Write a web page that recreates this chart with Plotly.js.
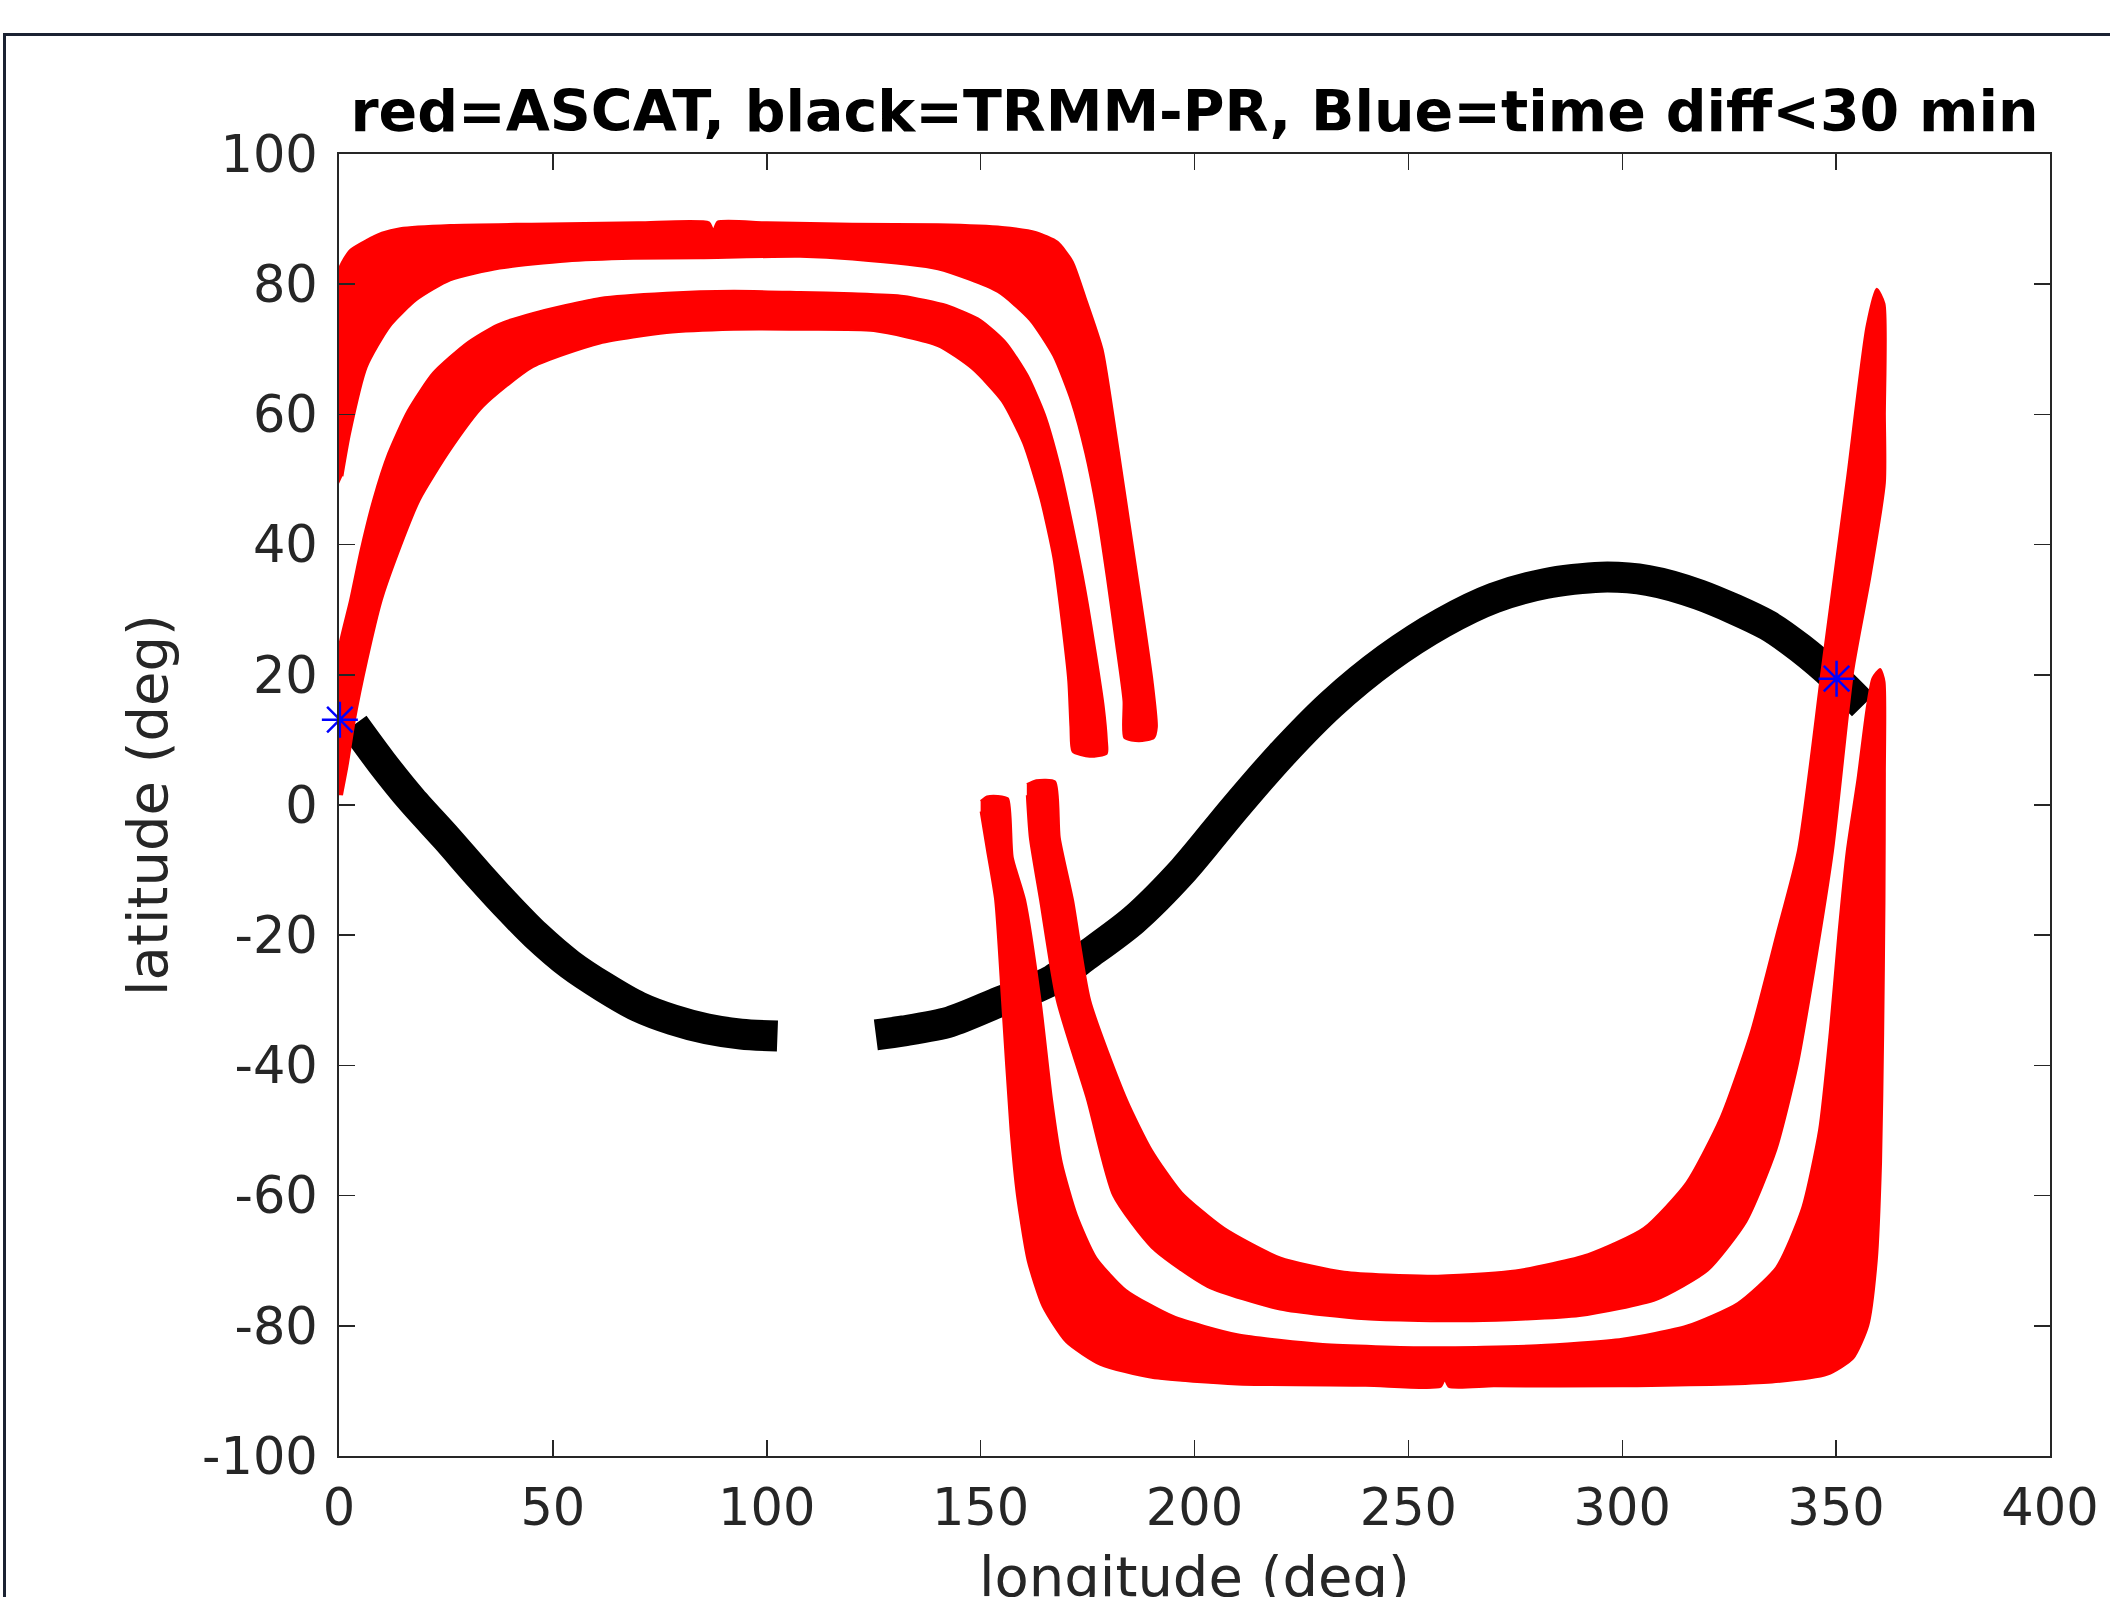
<!DOCTYPE html>
<html>
<head>
<meta charset="utf-8">
<script src="https://cdn.plot.ly/plotly-3.0.1.min.js"></script>
<style>
  html, body { margin: 0; padding: 0; background: #ffffff; }
  #wrap { position: relative; width: 2110px; height: 1597px; overflow: hidden; }
  #chart { position: absolute; left: 0; top: 0; width: 2110px; height: 1597px; }
  #frame { position: absolute; left: 3px; top: 33px; width: 2200px; height: 1700px;
           border-top: 3px solid #1b2232; border-left: 3px solid #1b2232; pointer-events: none; }
</style>
</head>
<body>
<div id="wrap"><div id="chart"></div><div id="frame"></div></div>
<script>
// ---------- axis ticks ----------
const xTickVals = [0, 50, 100, 150, 200, 250, 300, 350, 400];
const xTickText = ['0', '50', '100', '150', '200', '250', '300', '350', '400'];
const yTickVals = [-100, -80, -60, -40, -20, 0, 20, 40, 60, 80, 100];
const yTickText = ['-100', '-80', '-60', '-40', '-20', '0', '20', '40', '60', '80', '100'];

// ---------- TRMM-PR ground track (black), two segments ----------
const prTrack1Lon = [3.5, 10, 17, 25, 33, 40, 46, 54, 62, 70, 78, 86, 94, 102.5];
const prTrack1Lat = [12.3, 6.5, 0.8, -5, -11, -16, -20, -24.5, -28, -31, -33, -34.4, -35.2, -35.5];
const prTrack2Lon = [125.5, 132, 142.8, 154.5, 166.2, 175, 185.7, 197.4, 209, 220, 232, 245, 258, 270, 282, 295, 306, 318, 334, 341.6, 350, 356.3];
const prTrack2Lat = [-35.3, -34.7, -33.3, -30.2, -27.1, -23, -17.7, -10, -0.8, 7.5, 15.5, 22.5, 28, 31.8, 34, 35, 34.5, 32.3, 27.6, 24.1, 19.4, 15.3];

// ---------- ASCAT swaths (red), outlines of the covered areas ----------
const ascatNorthOuterLon = [-0.3, -1.2, -1.4, -1.3, -1.0, 0.2, 2.5, 6.5, 10, 14.3, 26, 45, 70, 86.5, 87.5, 88.5, 100, 120, 140, 155, 163, 168, 171.5, 174.5, 178.5, 181, 183.5, 186, 188.5, 190.2, 191.2, 190.5, 187, 183.6, 183.4, 181.6, 179.5, 177.2, 174.5, 171.2, 167, 161.5, 154, 140, 120, 107.8, 84.4, 68.8, 53.2, 37.6, 26, 18.2, 11.9, 6.5, 2.6, 0.8];
const ascatNorthOuterLat = [48.9, 53, 62, 72, 79, 82.7, 85.2, 86.8, 87.9, 88.6, 89.1, 89.3, 89.5, 89.5, 88.3, 89.6, 89.5, 89.3, 89.2, 88.8, 88, 86.5, 83.5, 78, 70, 60, 49, 38, 27, 19, 12, 10.3, 9.8, 10.3, 16, 25, 35, 45, 54, 62, 69, 74.5, 78.8, 82.3, 83.8, 84.2, 84.0, 83.9, 83.5, 82.4, 80.6, 77.6, 73.5, 67.3, 57.1, 50.5];

const ascatNorthInnerLon = [-0.5, -1.5, -1.7, -1.2, 0.2, 2.6, 5, 8, 11.5, 16, 22, 29.9, 37, 45.4, 61, 76.6, 92.2, 107.8, 120, 132, 142, 150, 156, 161, 165, 168.5, 171.5, 174.5, 177, 178.8, 179.5, 179.5, 175.5, 171.5, 171, 170.5, 169, 167, 164, 160, 155, 148, 140, 125, 107.8, 92.2, 76.6, 61, 45.4, 33.7, 26, 18.9, 14, 10, 6.5, 3.7, 2, 0.7];
const ascatNorthInnerLat = [1.5, 6, 13, 19, 25, 31.5, 39, 46.9, 54, 60.5, 66.4, 71, 73.8, 75.6, 77.9, 78.7, 79.0, 78.8, 78.6, 78.2, 76.8, 74.5, 71, 66, 60, 52, 43, 33, 23, 15, 10, 7.9, 7.4, 8.2, 12, 19, 28, 38, 47, 55.5, 62, 67, 70.5, 72.8, 73, 73, 72.5, 70.9, 67.3, 61.2, 54.5, 46.9, 39, 31.5, 22, 13, 6, 1.5];

const ascatSouthOuterLon = [150, 151.5, 154, 156.4, 157.5, 160.4, 164, 166.7, 169, 172.5, 177, 184, 195, 210, 230, 255, 280, 300, 315, 327, 336, 342, 346, 348.5, 350.5, 352.5, 355, 357.1, 358.5, 360.3, 361.3, 361.4, 361.3, 361, 360.5, 359.5, 357.5, 354, 348, 335, 300, 270, 259.5, 258.5, 257.5, 240, 210, 190, 178, 170, 164.5, 161, 158.5, 157, 155, 153.4, 151.5, 150];
const ascatSouthOuterLat = [0.6, 1.3, 1.4, 1.0, -8, -14.6, -30, -45.3, -55, -63, -69.5, -74.5, -78.5, -81.3, -82.8, -83.3, -83, -82, -80, -76.5, -71, -62, -50, -35, -20, -7, 4, 14.7, 19.5, 20.9, 19, 5, -15, -35, -55, -70, -80, -85, -87.5, -88.7, -89.3, -89.3, -89.4, -88.3, -89.4, -89.2, -89, -88, -86, -82.5, -77, -70, -60, -50, -30, -14.6, -7, -1];

const ascatSouthInnerLon = [160.8, 163, 167.4, 168.5, 171.6, 175.6, 184.2, 190, 197, 207, 220, 235, 255, 275, 292, 305, 315, 323, 330, 336, 341.1, 346.6, 352.5, 357.1, 359.5, 361.3, 361.4, 361.4, 358, 354, 349.3, 345, 341, 336, 329, 320, 308, 290, 265, 240, 220, 203, 190, 181, 174.9, 167.8, 163.9, 161.5, 160.8];
const ascatSouthInnerLat = [3.2, 3.8, 3.6, -5, -14.6, -30, -45.3, -53, -59.5, -65, -69.5, -71.7, -72.3, -71.5, -69, -65, -58, -48, -35, -20, -6.9, 20.6, 50, 73.5, 79.3, 77, 60, 49.5, 35, 20.6, -6.9, -25, -40, -53, -64, -71.5, -76, -78.5, -79.3, -79, -77.5, -74, -68, -60, -45.3, -30, -14.6, -5, 1.5];

// ---------- coincidences (blue) ----------
const matchLon = [0.2, 350.1];
const matchLat = [13.1, 19.4];

const RED = '#ff0000';
function swath(lon, lat) {
  return { type: 'scatter', mode: 'lines', x: lon, y: lat, fill: 'toself',
           fillcolor: RED, line: { color: RED, width: 2, shape: 'spline', smoothing: 0.6 }, hoverinfo: 'skip' };
}

const traces = [
  { type: 'scatter', mode: 'lines', x: prTrack1Lon, y: prTrack1Lat,
    line: { color: '#000000', width: 31, shape: 'spline', smoothing: 0.8 } },
  { type: 'scatter', mode: 'lines', x: prTrack2Lon, y: prTrack2Lat,
    line: { color: '#000000', width: 31, shape: 'spline', smoothing: 0.8 } },
  swath(ascatNorthOuterLon, ascatNorthOuterLat),
  swath(ascatNorthInnerLon, ascatNorthInnerLat),
  swath(ascatSouthOuterLon, ascatSouthOuterLat),
  swath(ascatSouthInnerLon, ascatSouthInnerLat),
  { type: 'scatter', mode: 'markers', x: matchLon, y: matchLat, cliponaxis: false,
    marker: { symbol: 'asterisk-open', size: 30, color: '#0000ff', line: { color: '#0000ff', width: 2.5 } } }
];

const axisCommon = {
  ticks: 'inside', ticklen: 16, tickwidth: 1.5, tickcolor: '#262626',
  showline: true, linecolor: '#262626', linewidth: 2, mirror: 'ticks',
  showgrid: false, zeroline: false,
  tickfont: { family: 'DejaVu Sans', size: 51, color: '#262626' }
};

const layout = {
  width: 2110, height: 1597,
  margin: { l: 339, r: 60, t: 154, b: 141, pad: 0 },
  paper_bgcolor: '#ffffff', plot_bgcolor: '#ffffff',
  showlegend: false,
  font: { family: 'DejaVu Sans', color: '#262626' },
  title: {
    text: 'red=ASCAT, black=TRMM-PR, Blue=time diff<30 min',
    font: { family: 'DejaVu Sans', size: 57, weight: 'bold', color: '#000000' },
    x: 0.5, xref: 'paper', xanchor: 'center',
    y: 1 - 111 / 1597, yref: 'container', yanchor: 'middle'
  },
  xaxis: Object.assign({}, axisCommon, {
    range: [0, 400], tickmode: 'array', tickvals: xTickVals, ticktext: xTickText,
    ticklabelstandoff: 6
  }),
  yaxis: Object.assign({}, axisCommon, {
    range: [-100, 100], tickmode: 'array', tickvals: yTickVals, ticktext: yTickText,
    ticklabelstandoff: 9,
    title: { text: 'latitude (deg)', font: { family: 'DejaVu Sans', size: 56, color: '#262626' }, standoff: 16 }
  }),
  annotations: [{
    text: 'longitude (deg)', showarrow: false,
    xref: 'paper', x: 0.5, xanchor: 'center',
    yref: 'paper', y: -0.0929, yanchor: 'middle',
    font: { family: 'DejaVu Sans', size: 56, color: '#262626' }
  }]
};

Plotly.newPlot('chart', traces, layout, { displayModeBar: false, staticPlot: true });
</script>
</body>
</html>
